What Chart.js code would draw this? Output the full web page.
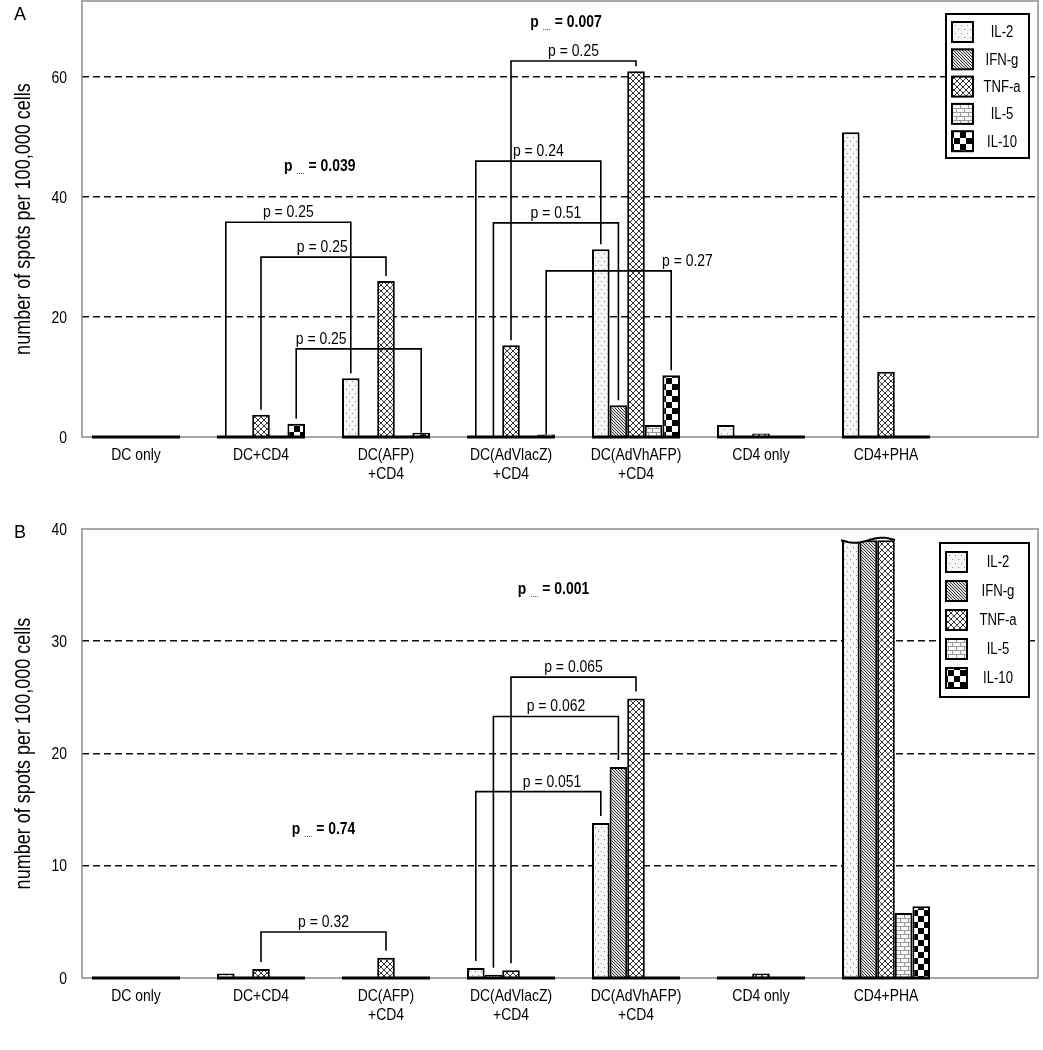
<!DOCTYPE html>
<html>
<head>
<meta charset="utf-8">
<script src="https://cdn.jsdelivr.net/npm/chart.js@4.4.0/dist/chart.umd.min.js"></script>
<style>
  body { margin: 0; background: #fff; }
  canvas { position: absolute; left: 0; }
  #chartA { top: 0; }
  #chartB { top: 490px; }
</style>
</head>
<body>
<canvas id="chartA" width="1043" height="490"></canvas>
<canvas id="chartB" width="1043" height="560"></canvas>
<script>
const categories = [
  ['DC only'], ['DC+CD4'], ['DC(AFP)', '+CD4'], ['DC(AdVlacZ)', '+CD4'],
  ['DC(AdVhAFP)', '+CD4'], ['CD4 only'], ['CD4+PHA']
];
const seriesNames = ['IL-2', 'IFN-g', 'TNF-a', 'IL-5', 'IL-10'];
const yTitle = 'number of spots per 100,000 cells';

// panel A
const il2A = [0, 0, 9.8, 0, 31.3, 2.0, 50.8];
const ifngA = [0, 0, 0, 0, 5.3, 0, 0];
const tnfA = [0, 3.7, 26.0, 15.3, 61.0, 0.6, 10.9];
const il5A = [0, 0, 0, 0, 2.0, 0, 0];
const il10A = [0, 2.2, 0.7, 0.4, 10.3, 0, 0];
const ticksA = [0, 20, 40, 60];

// panel B (CD4+PHA IL-2 / IFN-g / TNF-a are off scale)
const il2B = [0, 0.4, 0, 0.9, 13.8, 0, 39];
const ifngB = [0, 0, 0, 0.3, 18.8, 0, 39];
const tnfB = [0, 0.8, 1.8, 0.7, 24.9, 0.4, 39];
const il5B = [0, 0, 0, 0, 0, 0, 5.8];
const il10B = [0, 0, 0, 0, 0, 0, 6.4];
const ticksB = [0, 10, 20, 30, 40];

// comparisons: [category, series]
const bracketsA = [
  { from: [1, 0], to: [2, 0], level: 35.8, text: 'p = 0.25', at: 0.5 },
  { from: [1, 2], to: [2, 2], level: 30.0, text: 'p = 0.25', at: 0.49 },
  { from: [1, 4], to: [2, 4], level: 14.7, text: 'p = 0.25', at: 0.2 },
  { from: [3, 0], to: [4, 0], level: 46.0, text: 'p = 0.24', at: 0.5 },
  { from: [3, 1], to: [4, 1], level: 35.7, text: 'p = 0.51', at: 0.5 },
  { from: [3, 2], to: [4, 2], level: 62.7, text: 'p = 0.25', at: 0.5 },
  { from: [3, 4], to: [4, 4], level: 27.7, text: 'p = 0.27', at: 1.13 }
];
const trendA = [
  { x: 1.47, y: 45.3, text: '= 0.039' },
  { x: 3.44, y: 69.3, text: '= 0.007' }
];
const bracketsB = [
  { from: [1, 2], to: [2, 2], level: 4.1, text: 'p = 0.32', at: 0.5 },
  { from: [3, 0], to: [4, 0], level: 16.6, text: 'p = 0.051', at: 0.61 },
  { from: [3, 1], to: [4, 1], level: 23.3, text: 'p = 0.062', at: 0.5 },
  { from: [3, 2], to: [4, 2], level: 26.8, text: 'p = 0.065', at: 0.5 }
];
const trendB = [
  { x: 1.5, y: 13.4, text: '= 0.74' },
  { x: 3.34, y: 34.7, text: '= 0.001' }
];

const plain = "'Liberation Sans', Arial, sans-serif";
const squeeze = 0.82; // Arial squeezed to look like Arial Narrow

Chart.defaults.font.family = plain;
Chart.defaults.color = '#000';

// draw text horizontally squeezed round its anchor
function narrowText(ctx, text, x, y, size, o = {}) {
  ctx.save();
  ctx.font = (o.bold ? 'bold ' : '') + size + 'px ' + plain;
  ctx.textAlign = o.align || 'center';
  ctx.textBaseline = o.baseline || 'alphabetic';
  ctx.fillStyle = '#000';
  ctx.translate(x, y);
  if (o.rotate) ctx.rotate(o.rotate);
  ctx.scale(squeeze, 1);
  ctx.fillText(text, 0, 0);
  ctx.restore();
}

function narrowWidth(ctx, text, size, bold) {
  ctx.save();
  ctx.font = (bold ? 'bold ' : '') + size + 'px ' + plain;
  const w = ctx.measureText(text).width * squeeze;
  ctx.restore();
  return w;
}

function makePattern(kind) {
  const c = document.createElement('canvas');
  const g = c.getContext('2d');
  if (kind === 'dots') {
    c.width = 6; c.height = 8;
    g.fillStyle = '#f6f6f6'; g.fillRect(0, 0, 6, 8);
    g.fillStyle = '#8a8a8a';
    g.fillRect(1, 1, 1, 1); g.fillRect(4, 5, 1, 1);
  } else if (kind === 'diag') {
    c.width = 3; c.height = 3;
    g.fillStyle = '#dcdcdc'; g.fillRect(0, 0, 3, 3);
    g.fillStyle = '#3a3a3a';
    for (let i = 0; i < 3; i++) g.fillRect(i, i, 1, 1);
  } else if (kind === 'cross') {
    c.width = 6; c.height = 6;
    g.fillStyle = '#fff'; g.fillRect(0, 0, 6, 6);
    g.fillStyle = '#333';
    for (let i = 0; i < 6; i++) { g.fillRect(i, i, 1, 1); g.fillRect(5 - i, i, 1, 1); }
  } else if (kind === 'brick') {
    c.width = 8; c.height = 8;
    g.fillStyle = '#f8f8f8'; g.fillRect(0, 0, 8, 8);
    g.fillStyle = '#9a9a9a';
    g.fillRect(0, 0, 8, 1); g.fillRect(0, 4, 8, 1);
    g.fillRect(0, 0, 1, 4); g.fillRect(4, 4, 1, 4);
  } else {
    c.width = 12; c.height = 12;
    g.fillStyle = '#fff'; g.fillRect(0, 0, 12, 12);
    g.fillStyle = '#000';
    g.fillRect(0, 0, 6, 6); g.fillRect(6, 6, 6, 6);
  }
  return g.createPattern(c, 'repeat');
}

const patterns = ['dots', 'diag', 'cross', 'brick', 'check'].map(makePattern);

function buildDatasets(seriesValues) {
  return seriesValues.map((vals, s) => ({
    label: seriesNames[s],
    data: vals.map((v, i) => ({ x: i, y: v })),
    backgroundColor: patterns[s],
    borderColor: '#000',
    borderWidth: 2,
    categoryPercentage: 0.704,
    barPercentage: 1.0
  }));
}

// thin grey frame round the plot area
const framePlugin = {
  id: 'frame',
  beforeDatasetsDraw(chart) {
    const { ctx, chartArea: a } = chart;
    ctx.save();
    ctx.strokeStyle = '#8a8a8a';
    ctx.lineWidth = 1.5;
    ctx.strokeRect(a.left, a.top, a.right - a.left, a.bottom - a.top);
    ctx.restore();
  }
};

// thick black line under each group of bars
const groupBasePlugin = {
  id: 'groupBase',
  afterDatasetsDraw(chart) {
    const ctx = chart.ctx;
    const y0 = chart.scales.y.getPixelForValue(0);
    const m0 = chart.getDatasetMeta(0);
    const m4 = chart.getDatasetMeta(4);
    ctx.save();
    ctx.strokeStyle = '#000';
    ctx.lineWidth = 3;
    categories.forEach((c, i) => {
      const a = m0.data[i], b = m4.data[i];
      ctx.beginPath();
      ctx.moveTo(a.x - a.width / 2, y0);
      ctx.lineTo(b.x + b.width / 2, y0);
      ctx.stroke();
    });
    ctx.restore();
  }
};

// wavy top on the off-scale bars
const breakPlugin = {
  id: 'breakTop',
  afterDatasetsDraw(chart, args, opts) {
    if (opts.index === undefined) return;
    const ctx = chart.ctx;
    const a = chart.getDatasetMeta(0).data[opts.index];
    const b = chart.getDatasetMeta(2).data[opts.index];
    const x1 = a.x - a.width / 2 - 1, x2 = b.x + b.width / 2 + 1;
    const y = a.y;
    const wave = (x) => y + 2.5 * Math.sin((x - x1) / (x2 - x1) * Math.PI * 2);
    ctx.save();
    ctx.fillStyle = '#fff';
    ctx.beginPath();
    ctx.moveTo(x1 - 1, y - 4);
    ctx.lineTo(x2 + 1, y - 4);
    for (let x = x2; x >= x1; x -= 1) ctx.lineTo(x, wave(x));
    ctx.closePath();
    ctx.fill();
    ctx.strokeStyle = '#000';
    ctx.lineWidth = 2;
    ctx.beginPath();
    for (let x = x1; x <= x2; x += 1) {
      if (x === x1) ctx.moveTo(x, wave(x)); else ctx.lineTo(x, wave(x));
    }
    ctx.stroke();
    ctx.restore();
  }
};

function legEnd(chart, ref, opts) {
  const [cat, ser] = ref;
  const el = chart.getDatasetMeta(ser).data[cat];
  const v = chart.data.datasets[ser].data[cat].y;
  const gap = v >= opts.minGapValue ? opts.gap : 0;
  return { x: el.x, y: el.y - gap };
}

const bracketPlugin = {
  id: 'brackets',
  afterDatasetsDraw(chart, args, opts) {
    const ctx = chart.ctx;
    const xs = chart.scales.x, ys = chart.scales.y;
    ctx.save();
    ctx.strokeStyle = '#000';
    ctx.lineWidth = 1.6;
    opts.items.forEach(b => {
      const p1 = legEnd(chart, b.from, opts);
      const p2 = legEnd(chart, b.to, opts);
      const yl = ys.getPixelForValue(b.level);
      ctx.beginPath();
      ctx.moveTo(p1.x, p1.y);
      ctx.lineTo(p1.x, yl);
      ctx.lineTo(p2.x, yl);
      ctx.lineTo(p2.x, p2.y);
      ctx.stroke();
      narrowText(ctx, b.text, p1.x + (p2.x - p1.x) * b.at, yl - 5, 17);
    });
    // overall p values, bold, with a small dotted subscript
    opts.trend.forEach(t => {
      const cx = xs.getPixelForValue(t.x);
      const cy = ys.getPixelForValue(t.y) + 6;
      const wp = narrowWidth(ctx, 'p ', 17, true);
      const wd = narrowWidth(ctx, '....', 9, false);
      const wt = narrowWidth(ctx, ' ' + t.text, 17, true);
      let x = cx - (wp + wd + wt) / 2;
      narrowText(ctx, 'p ', x, cy, 17, { align: 'left', bold: true });
      x += wp;
      narrowText(ctx, '....', x, cy + 3, 9, { align: 'left' });
      x += wd;
      narrowText(ctx, ' ' + t.text, x, cy, 17, { align: 'left', bold: true });
    });
    ctx.restore();
  }
};

// tick labels, category labels and axis title
const axisTextPlugin = {
  id: 'axisText',
  afterDraw(chart, args, o) {
    const ctx = chart.ctx;
    const xs = chart.scales.x, ys = chart.scales.y, a = chart.chartArea;
    o.ticks.forEach(v => {
      narrowText(ctx, String(v), a.left - 15, ys.getPixelForValue(v) + 1, 17, { align: 'right', baseline: 'middle' });
    });
    categories.forEach((lines, i) => {
      lines.forEach((line, k) => {
        narrowText(ctx, line, xs.getPixelForValue(i), a.bottom + 23 + k * 19, 17);
      });
    });
    narrowText(ctx, yTitle, 24, (a.top + a.bottom) / 2, 22, { baseline: 'middle', rotate: -Math.PI / 2 });
  }
};

const legendPlugin = {
  id: 'boxLegend',
  afterDraw(chart, args, o) {
    const ctx = chart.ctx;
    ctx.save();
    ctx.fillStyle = '#fff';
    ctx.fillRect(o.x, o.y, o.w, o.h);
    ctx.strokeStyle = '#000';
    ctx.lineWidth = 2;
    ctx.strokeRect(o.x, o.y, o.w, o.h);
    seriesNames.forEach((name, s) => {
      const cy = o.row0 + s * o.step;
      ctx.fillStyle = patterns[s];
      ctx.fillRect(o.swX, cy - 10, 21, 20);
      ctx.strokeRect(o.swX, cy - 10, 21, 20);
      narrowText(ctx, name, o.textX, cy + 1, 16, { baseline: 'middle' });
    });
    ctx.restore();
  }
};

const panelLetter = {
  id: 'panelLetter',
  afterDraw(chart, args, o) {
    const ctx = chart.ctx;
    ctx.save();
    ctx.font = '18px ' + plain;
    ctx.fillStyle = '#000';
    ctx.textBaseline = 'alphabetic';
    ctx.fillText(o.text, 14, o.y);
    ctx.restore();
  }
};

function makeChart(id, cfg) {
  const ctx = document.getElementById(id).getContext('2d');
  return new Chart(ctx, {
    type: 'bar',
    data: { datasets: buildDatasets(cfg.series) },
    options: {
      responsive: false,
      animation: false,
      events: [],
      layout: { padding: { top: cfg.top, right: 5, left: 0, bottom: 0 } },
      plugins: {
        legend: { display: false },
        tooltip: { enabled: false },
        brackets: { items: cfg.brackets, trend: cfg.trend, gap: cfg.gap, minGapValue: cfg.minGapValue },
        axisText: { ticks: cfg.ticks },
        boxLegend: cfg.legend,
        panelLetter: cfg.letter,
        breakTop: { index: cfg.breakIndex }
      },
      scales: {
        x: {
          type: 'linear',
          min: -0.432,
          max: 7.216,
          offset: false,
          grid: { display: false, offset: false },
          border: { display: false },
          afterBuildTicks: s => { s.ticks = categories.map((c, i) => ({ value: i })); },
          afterFit: s => { s.height = cfg.xHeight; },
          ticks: { display: false }
        },
        y: {
          min: 0,
          max: cfg.yMax,
          afterBuildTicks: s => { s.ticks = cfg.ticks.map(v => ({ value: v })); },
          afterFit: s => { s.width = 82; },
          grid: {
            drawTicks: false,
            lineWidth: 1.6,
            color: c => (c.tick && (c.tick.value === 0 || c.tick.value === cfg.yMax)) ? 'rgba(0,0,0,0)' : '#111'
          },
          border: { display: false, dash: [7, 4] },
          ticks: { display: false },
          title: { display: false }
        }
      }
    },
    plugins: [framePlugin, groupBasePlugin, breakPlugin, bracketPlugin, axisTextPlugin, legendPlugin, panelLetter]
  });
}

makeChart('chartA', {
  series: [il2A, ifngA, tnfA, il5A, il10A],
  ticks: ticksA,
  yMax: 72.7,
  top: 1,
  xHeight: 53,
  brackets: bracketsA,
  trend: trendA,
  gap: 5,
  minGapValue: 1,
  legend: { x: 946, y: 14, w: 83, h: 144, swX: 952, row0: 32, step: 27.3, textX: 1002 },
  letter: { text: 'A', y: 20 }
});

makeChart('chartB', {
  series: [il2B, ifngB, tnfB, il5B, il10B],
  ticks: ticksB,
  yMax: 40,
  top: 39,
  xHeight: 72,
  brackets: bracketsB,
  trend: trendB,
  gap: 7,
  minGapValue: 0.1,
  legend: { x: 940, y: 53, w: 89, h: 154, swX: 946, row0: 72, step: 29, textX: 998 },
  letter: { text: 'B', y: 48 },
  breakIndex: 6
});
</script>
</body>
</html>
